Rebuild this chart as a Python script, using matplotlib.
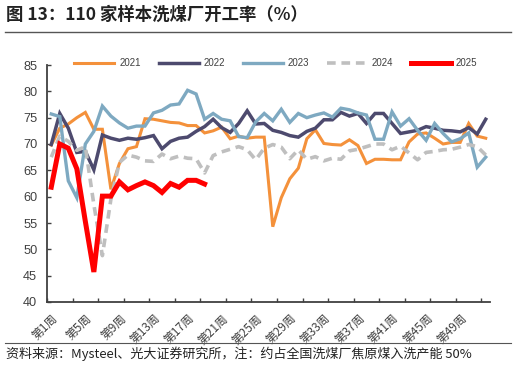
import matplotlib
matplotlib.use("Agg")
import matplotlib.pyplot as plt
from matplotlib.lines import Line2D
import numpy as np

plt.rcParams['font.family'] = ['Noto Sans CJK SC', 'DejaVu Sans']

weeks = [f"第{i}周" for i in range(1, 53)]
y2021 = [69.8, 73.0, 73.8, 75.0, 76.0, 72.8, 72.8, 61.4, 66.3, 69.1,
         69.5, 74.8, 74.7, 74.4, 74.1, 74.0, 73.5, 73.5, 72.1, 72.5,
         73.2, 71.0, 71.5, 71.1, 71.3, 71.3, 54.3, 59.8, 63.4, 65.4,
         71.0, 72.7, 70.1, 69.9, 69.8, 70.8, 69.7, 66.3, 67.1, 67.1,
         67.0, 67.0, 70.4, 71.9, 72.1, 71.1, 70.0, 70.3, 70.3, 73.9,
         71.5, 71.1]
y2022 = [69.9, 75.8, 73.0, 68.4, 68.6, 65.1, 71.7, 71.1, 70.7, 71.1,
         70.9, 71.2, 71.6, 69.1, 70.5, 71.1, 71.3, 72.4, 73.3, 74.7,
         73.1, 72.2, 73.9, 76.3, 73.8, 73.9, 72.6, 72.2, 71.6, 71.3,
         72.4, 73.0, 74.6, 74.6, 76.0, 75.3, 75.8, 73.9, 75.8, 75.8,
         73.9, 72.0, 72.3, 72.6, 73.3, 73.0, 72.6, 72.5, 72.3, 73.1,
         71.9, 74.7]
y2023 = [75.7, 75.2, 63.0, 59.8, 70.0, 72.4, 77.2, 75.3, 74.0, 73.0,
         73.4, 73.4, 75.9, 76.4, 77.4, 77.6, 80.2, 79.5, 74.7, 75.8,
         74.7, 74.4, 71.4, 71.2, 74.2, 75.8, 74.4, 76.6, 74.1, 75.8,
         75.0, 75.5, 75.9, 75.1, 76.8, 76.5, 75.9, 75.5, 70.9, 70.9,
         76.1, 73.4, 74.8, 72.6, 70.7, 73.9, 72.0, 70.4, 71.0, 72.1,
         65.6, 67.5]
y2024 = [67.5, 71.5, 70.5, 68.8, 69.5, 58.5, 48.8, 59.5, 66.5, 67.9,
         67.5, 66.8, 66.7, 68.1, 67.2, 67.7, 67.3, 67.2, 64.5, 67.8,
         68.5, 69.0, 69.5, 68.9, 67.0, 69.2, 69.9, 69.4, 67.2, 68.9,
         67.1, 67.6, 66.8, 67.3, 67.1, 68.7, 69.0, 69.5, 70.0, 70.0,
         68.9, 69.6, 68.3, 67.0, 68.4, 68.6, 68.9, 69.0, 69.4, 69.9,
         69.5, 67.9]
y2025 = [61.8, 70.0, 69.2, 65.3, 55.3, 45.7, 60.1, 60.1, 62.8, 61.3,
         62.1, 62.8, 62.1, 60.8, 62.5, 61.8, 63.1, 63.1, 62.4]

series_names = ["2021", "2022", "2023", "2024", "2025"]
yticks = [40, 45, 50, 55, 60, 65, 70, 75, 80, 85]

W, H = 516, 365
fig = plt.figure(figsize=(W / 100, H / 100), dpi=100)
ax = fig.add_axes([47 / W, 1 - 302 / H, (490 - 47) / W, (302 - 65) / H])

x = np.arange(len(weeks))
styles = [
    dict(color="#F4913B", lw=2.2, ls="-"),
    dict(color="#4D4A6E", lw=2.5, ls="-"),
    dict(color="#7EA9C1", lw=2.4, ls="-"),
    dict(color="#BFBFBF", lw=2.6, ls=(0, (2.4, 1.6))),
    dict(color="#FF0000", lw=3.6, ls="-"),
]
data = [y2021, y2022, y2023, y2024, y2025]
handles = []
for name, ys, st in zip(series_names, data, styles):
    h, = ax.plot(x[:len(ys)], ys, label=name, solid_joinstyle="miter", **st)
    handles.append(h)

ax.set_xlim(-0.5, len(weeks) - 0.5)
ax.set_ylim(40, 85)
ax.set_yticks(yticks)
ax.set_yticklabels([str(v) for v in yticks], family=["Liberation Sans", "DejaVu Sans"],
                   fontsize=9.2, color="#404040")
lab_pos = x[::4]
ax.set_xticks(lab_pos)
ax.set_xticklabels([weeks[i] for i in lab_pos], rotation=45, ha="right",
                   rotation_mode="anchor", fontsize=8.5, color="#404040")
ax.tick_params(axis="x", which="major", length=0, pad=7)
ax.set_xticks(np.arange(-0.5, len(weeks), 3), minor=True)
ax.tick_params(axis="x", which="minor", direction="in", length=3, width=1, color="#404040")
ax.tick_params(axis="y", direction="in", length=3, width=1, color="#404040", pad=7)

for s in ["top", "right"]:
    ax.spines[s].set_visible(False)
for s in ["left", "bottom"]:
    ax.spines[s].set_color("#404040")
    ax.spines[s].set_linewidth(1.3)

leg = fig.legend(handles=handles, loc="center", bbox_to_anchor=(276 / W, 1 - 63 / H),
                 ncol=5, frameon=False, handlelength=4.1, handletextpad=0.5,
                 columnspacing=1.85, prop={"family": ["Liberation Sans", "DejaVu Sans"], "size": 7})
for t in leg.get_texts():
    t.set_color("#404040")

fig.text(6 / W, 1 - 15 / H, "图 13：110 家样本洗煤厂开工率（%）", fontsize=12.5,
         fontweight="bold", va="center", ha="left", color="#222222")
fig.add_artist(Line2D([5 / W, 511 / W], [1 - 32 / H, 1 - 32 / H], color="#555555", lw=1.0))
fig.add_artist(Line2D([5 / W, 511 / W], [1 - 343 / H, 1 - 343 / H], color="#555555", lw=0.8))
fig.text(6 / W, 1 - 354 / H, "资料来源：Mysteel、光大证券研究所，注：约占全国洗煤厂焦原煤入洗产能 50%",
         fontsize=9.4, va="center", ha="left", color="#222222")

fig.savefig("out.png", dpi=100)
